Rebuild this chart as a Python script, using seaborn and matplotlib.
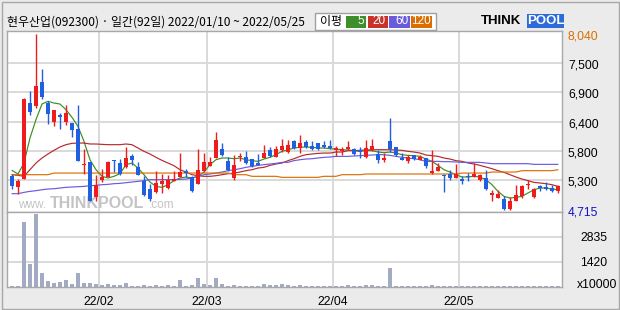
import numpy as np
import pandas as pd
import matplotlib
matplotlib.use("Agg")
import matplotlib.pyplot as plt
import matplotlib.transforms as mtrans
from matplotlib.patches import Rectangle
import seaborn as sns

# ---------------- data ----------------
holidays = ["2022-01-31", "2022-02-01", "2022-02-02", "2022-03-01", "2022-03-09", "2022-05-05"]

opens = [5356, 5148, 5299, 6729, 6666, 7126, 6729, 6364, 6496, 6364, 6351, 6238, 5551, 5614, 4947, 5268,
         5331, 5658, 5595, 5514, 5721, 5520, 5249, 5104, 5041, 5205, 5123, 5262, 5331, 5438, 5331, 5205,
         5438, 5539, 5690, 5854, 5627, 5312, 5703, 5703, 5671, 5595, 5690, 5835, 5709, 5847, 5797, 6011,
         5879, 5992, 5923, 5973, 5942, 5923, 5847, 5816, 5866, 5860, 5835, 5709, 5847, 5766, 5646, 6005,
         5898, 5690, 5627, 5740, 5658, 5690, 5406, 5451, 5375, 5394, 5312, 5293, 5337, 5331, 5280, 5312,
         4984, 4934, 4915, 4720, 4871, 4978, 5186, 4947, 5167, 5142, 5123, 5073]
highs = [5394, 5299, 6830, 6963, 8040, 7372, 6761, 6600, 6534, 6685, 6351, 6692, 5860, 5614, 5369, 5482,
         5640, 5658, 5677, 5898, 5772, 5608, 5344, 5199, 5438, 5394, 5375, 5438, 5784, 5488, 5344, 5866,
         5784, 5709, 6181, 5973, 5709, 5740, 5778, 5816, 5671, 5772, 5929, 5898, 5917, 6049, 6030, 6030,
         6125, 6024, 6018, 5973, 6011, 6030, 5923, 5898, 6011, 5879, 5898, 6030, 6049, 5841, 5791, 6446,
         5898, 5784, 5753, 5753, 5753, 5690, 5835, 5596, 5388, 5469, 5583, 5344, 5406, 5596, 5394, 5457,
         5091, 5079, 4978, 4953, 5186, 5186, 5268, 5123, 5186, 5236, 5186, 5186]
lows = [5104, 5016, 5290, 6503, 6629, 6811, 6339, 6301, 6244, 6320, 6081, 5627, 5394, 4871, 4871, 5236,
        5331, 5425, 5362, 5501, 5564, 5375, 4966, 4884, 5028, 5028, 5104, 5249, 5331, 5331, 5047, 5205,
        5425, 5539, 5690, 5721, 5438, 5280, 5627, 5577, 5514, 5551, 5690, 5709, 5709, 5803, 5784, 5866,
        5784, 5879, 5835, 5847, 5879, 5866, 5721, 5753, 5835, 5753, 5690, 5690, 5816, 5595, 5614, 5803,
        5721, 5646, 5595, 5646, 5646, 5501, 5394, 5438, 5041, 5280, 5312, 5205, 5262, 5331, 5262, 5091,
        4884, 4934, 4715, 4715, 4871, 4934, 5104, 4934, 5073, 5091, 5047, 5028]
closes = [5167, 5249, 6811, 6566, 7051, 6843, 6528, 6597, 6465, 6540, 6213, 5627, 5583, 4871, 5173, 5331,
          5608, 5627, 5394, 5690, 5646, 5375, 4997, 4915, 5217, 5262, 5268, 5299, 5425, 5413, 5060, 5469,
          5614, 5614, 6030, 5740, 5457, 5551, 5728, 5595, 5545, 5551, 5784, 5728, 5860, 5920, 5942, 5879,
          5973, 5898, 5866, 5866, 5898, 5879, 5879, 5866, 5898, 5766, 5803, 5879, 5917, 5658, 5690, 5866,
          5740, 5658, 5709, 5671, 5709, 5532, 5444, 5520, 5344, 5312, 5388, 5262, 5325, 5394, 5375, 5110,
          5028, 5016, 4732, 4871, 4984, 5154, 5205, 5104, 5123, 5104, 5073, 5167]
volumes = [45, 60, 3700, 1320, 4140, 810, 360, 227, 300, 397, 190, 810, 227, 227, 170, 100,
           170, 100, 115, 227, 75, 75, 115, 75, 115, 75, 95, 60, 397, 60, 115, 510,
           170, 115, 510, 170, 60, 115, 60, 60, 60, 60, 170, 130, 130, 170, 115, 60,
           115, 60, 45, 45, 45, 45, 45, 45, 115, 45, 45, 115, 115, 45, 45, 1077,
           45, 45, 45, 45, 45, 45, 113, 45, 45, 45, 45, 45, 45, 45, 45, 45,
           45, 45, 45, 45, 45, 45, 45, 45, 45, 45, 45, 45]
ma5 = [5457, 5388, 5595, 6068, 6415, 6710, 6761, 6729, 6710, 6603, 6459, 6289, 6005, 5658, 5469, 5344,
       5312, 5344, 5394, 5564, 5595, 5501, 5375, 5236, 5154, 5136, 5186, 5262, 5312, 5331, 5312, 5343,
       5425, 5564, 5658, 5690, 5690, 5677, 5690, 5658, 5640, 5627, 5671, 5703, 5753, 5816, 5847, 5879,
       5892, 5898, 5892, 5879, 5879, 5866, 5860, 5847, 5841, 5829, 5816, 5829, 5829, 5803, 5791, 5803,
       5784, 5753, 5740, 5734, 5721, 5671, 5627, 5551, 5469, 5425, 5375, 5331, 5331, 5344, 5331, 5280,
       5186, 5060, 4966, 4934, 4947, 4966, 5029, 5091, 5123, 5123, 5104, 5091]
ma20 = [5375, 5363, 5344, 5469, 5595, 5690, 5766, 5835, 5898, 5942, 5967, 5973, 5973, 5955, 5955, 5948,
        5942, 5942, 5942, 5955, 5942, 5879, 5816, 5766, 5703, 5646, 5595, 5545, 5469, 5425, 5375, 5356,
        5344, 5344, 5356, 5375, 5394, 5406, 5425, 5451, 5469, 5501, 5514, 5551, 5577, 5595, 5640, 5677,
        5721, 5753, 5766, 5778, 5784, 5784, 5803, 5803, 5829, 5829, 5835, 5841, 5847, 5847, 5847, 5847,
        5841, 5835, 5816, 5803, 5784, 5747, 5734, 5721, 5690, 5671, 5640, 5627, 5596, 5577, 5551, 5520,
        5488, 5451, 5419, 5375, 5331, 5293, 5262, 5230, 5218, 5205, 5186, 5154]
ma60 = [5016, 5016, 5041, 5060, 5073, 5091, 5104, 5110, 5123, 5136, 5142, 5148, 5154, 5167, 5173, 5186,
        5192, 5205, 5211, 5224, 5236, 5249, 5262, 5281, 5281, 5281, 5281, 5281, 5287, 5293, 5312, 5343,
        5375, 5388, 5406, 5425, 5451, 5469, 5488, 5514, 5532, 5551, 5564, 5577, 5589, 5608, 5608, 5640,
        5658, 5671, 5677, 5690, 5703, 5709, 5721, 5721, 5721, 5728, 5734, 5740, 5747, 5753, 5753, 5740,
        5721, 5703, 5690, 5677, 5658, 5627, 5627, 5627, 5621, 5621, 5615, 5608, 5608, 5608, 5608, 5596,
        5583, 5583, 5583, 5583, 5583, 5583, 5583, 5570, 5570, 5570, 5570, 5570]
ma120 = [5375, 5375, 5375, 5375, 5375, 5375, 5375, 5406, 5406, 5406, 5406, 5406, 5406, 5406, 5406, 5406,
         5406, 5406, 5406, 5406, 5406, 5406, 5406, 5406, 5406, 5406, 5406, 5406, 5406, 5406, 5406, 5406,
         5406, 5406, 5406, 5406, 5406, 5375, 5375, 5375, 5344, 5344, 5344, 5344, 5344, 5325, 5325, 5325,
         5325, 5325, 5325, 5325, 5344, 5344, 5344, 5375, 5375, 5375, 5375, 5388, 5388, 5388, 5388, 5388,
         5388, 5388, 5388, 5388, 5388, 5388, 5388, 5388, 5388, 5388, 5388, 5406, 5406, 5406, 5406, 5406,
         5425, 5425, 5425, 5425, 5425, 5451, 5451, 5451, 5451, 5451, 5451, 5469]

price_ticks = [4715, 5269, 5823, 6377, 6931, 7485, 8039]
price_labels = ["4,715", "5,300", "5,800", "6,400", "6,900", "7,500", "8,040"]
vol_ticks = [1420, 2835]
vol_labels = ["1420", "2835"]
ma_names = ["5", "20", "60", "120"]

title = "현우산업(092300) · 일간(92일) 2022/01/10 ~ 2022/05/25"

# ---------------- styling ----------------
sns.set_style("white")
plt.rcParams['font.family'] = ['Noto Sans CJK KR', 'DejaVu Sans']

RED = "#ee1c1c"
BLUE = "#1f5fe0"
VOLC = "#a3aac3"
GRID = "#d9d9d9"
BG = "#ebebeb"
SPINE = "#a8a8a8"
MA_COLORS = {"5": "#3f8c22", "20": "#b52a2a", "60": "#6a5adc", "120": "#dc6e00"}
LEG_COLORS = {"5": "#3e8e2a", "20": "#c83228", "60": "#6a5adc", "120": "#dc6e00"}
NUMFONT = ["Liberation Sans", "DejaVu Sans"]

W, H = 620, 310
def fx(px):
    return px / W
def fy(py):
    return 1 - py / H

dates = [d for d in pd.bdate_range("2022-01-10", "2022-05-25") if d.strftime("%Y-%m-%d") not in holidays]
n = len(dates)
idx = np.arange(n)
o = np.array(opens, float); c = np.array(closes, float)
h = np.array(highs, float); l = np.array(lows, float)

month_pos, month_lab = [], []
for i in range(1, n):
    if dates[i].month != dates[i - 1].month:
        month_pos.append(i - 0.5)
        month_lab.append(dates[i].strftime("%y/%m"))

fig = plt.figure(figsize=(6.2, 3.1), dpi=100, facecolor=BG)
ax = fig.add_axes([fx(7), fy(212), (562 - 7) / W, (212 - 31) / H])
axv = fig.add_axes([fx(7), fy(287), (562 - 7) / W, (287 - 212) / H])

XL = (-0.83, 91.67)
for a in (ax, axv):
    a.set_facecolor("white")
    for s in a.spines.values():
        s.set_color(SPINE)
        s.set_linewidth(1.0)
    a.set_xlim(*XL)
    for mp in month_pos:
        a.axvline(mp, color=GRID, lw=1.4, zorder=0.5)

# price panel
ax.set_ylim(4670, 8090)
for t in price_ticks[1:-1]:
    ax.axhline(t, color=GRID, lw=1.4, zorder=0.5)

# watermark
wm = "#c4c4c4"
wy = (212 - 208) / 181
ax.text((46 - 7) / 555, wy, "www.", transform=ax.transAxes, color=wm,
        fontsize=8.5, family=NUMFONT, va="baseline", ha="right", zorder=1)
ax.text((97 - 7) / 555, wy, "THINKPOOL", transform=ax.transAxes, color=wm,
        fontsize=11.5, fontweight="bold", family=NUMFONT, va="baseline", ha="center", zorder=1)
ax.text((149 - 7) / 555, wy, ".com", transform=ax.transAxes, color=wm,
        fontsize=8.5, family=NUMFONT, va="baseline", ha="left", zorder=1)

# moving averages
ma_df = pd.concat([
    pd.DataFrame({"idx": idx, "value": vals, "ma": name})
    for name, vals in zip(ma_names, [ma5, ma20, ma60, ma120])
])
sns.lineplot(data=ma_df, x="idx", y="value", hue="ma", palette=MA_COLORS, ax=ax,
             legend=False, linewidth=0.85, zorder=2)

# candles
up = c >= o
cols = np.where(up, RED, BLUE)
ax.vlines(idx, l, h, colors=cols, lw=1.0, zorder=3)
body_bottom = np.minimum(o, c)
body_h = np.maximum(np.abs(c - o), 20)
ax.bar(idx, body_h, bottom=body_bottom, width=0.76, color=cols, linewidth=0, zorder=4)

ax.set_xticks([]); ax.set_yticks([])
ax.set_xlabel(""); ax.set_ylabel("")
ax.set_xlim(*XL)

# volume panel
vol_df = pd.DataFrame({"idx": idx, "vol": volumes})
sns.barplot(data=vol_df, x="idx", y="vol", native_scale=True, color=VOLC, saturation=1,
            width=0.76, ax=axv, errorbar=None, linewidth=0, zorder=2)
axv.set_ylim(0, 4253)
axv.set_xlim(*XL)
for t in vol_ticks:
    axv.axhline(t, color=GRID, lw=1.4, zorder=0.5)
axv.set_xticks([]); axv.set_yticks([])
axv.set_xlabel(""); axv.set_ylabel("")

# right labels
tr = mtrans.offset_copy(ax.get_yaxis_transform(), fig=fig, y=-1.8, units="points")
for v, lab in zip(price_ticks, price_labels):
    colr = "black"
    if lab == price_labels[-1]:
        colr = "#d87000"
    if lab == price_labels[0]:
        colr = "#1414c8"
    ax.text(1 + 6 / 555, v, lab, transform=tr, ha="left", va="center", fontsize=8.7,
            family=NUMFONT, color=colr, clip_on=False)
trv = mtrans.offset_copy(axv.get_yaxis_transform(), fig=fig, y=-1.0, units="points")
for v, lab in zip(vol_ticks, vol_labels):
    axv.text(1 + 18 / 555, v, lab, transform=trv, ha="left", va="center", fontsize=8.7,
             family=NUMFONT, color="black", clip_on=False)
axv.text(1 + 15 / 555, 0.03, "x10000", transform=axv.transAxes, ha="left", va="center",
         fontsize=8.7, family=NUMFONT, color="black", clip_on=False)

# month labels
for mp, lab in zip(month_pos, month_lab):
    axv.text(mp, -15 / 75, lab, transform=axv.get_xaxis_transform(), ha="center",
             va="center", fontsize=8.7, family=NUMFONT, color="black", clip_on=False)

# title
fig.text(fx(7), fy(22), title, fontsize=8.6, va="center", ha="left", color="black",
         family=["Noto Sans CJK KR", "DejaVu Sans"])

# MA legend box
fig.add_artist(Rectangle((fx(315), fy(29.5)), (436 - 315) / W, (29.5 - 12.5) / H,
                         transform=fig.transFigure, facecolor="white", edgecolor="#a0a0a0", lw=1))
fig.text(fx(320), fy(21), "이평", fontsize=8.6, va="center", ha="left", color="black",
         family=["Noto Sans CJK KR", "DejaVu Sans"])
box_x = {"5": (346, 366), "20": (367.5, 387.5), "60": (389, 410), "120": (411, 432)}
for name in ma_names:
    x0, x1 = box_x[name]
    fig.add_artist(Rectangle((fx(x0), fy(27.5)), (x1 - x0) / W, 12 / H, transform=fig.transFigure,
                             facecolor=LEG_COLORS[name], edgecolor="none"))
    fig.text(fx(x1 - 1.5), fy(21.5), name, fontsize=8.5, va="center", ha="right", color="white",
             family=NUMFONT)

# THINKPOOL logo
fig.text(fx(481), fy(21), "THINK", fontsize=9.5, fontweight="bold", va="center", ha="left",
         color="black", family=NUMFONT)
fig.add_artist(Rectangle((fx(527), fy(28)), 37 / W, 14 / H, transform=fig.transFigure,
                         facecolor="#2d6bd8", edgecolor="none"))
fig.text(fx(545.5), fy(21), "POOL", fontsize=9.5, fontweight="bold", va="center", ha="center",
         color="white", family=NUMFONT)

# outer border
fig.add_artist(Rectangle((fx(1.5), fy(308.5)), 617 / W, 307 / H, transform=fig.transFigure,
                         facecolor="none", edgecolor="#a8a8a8", lw=1))

fig.savefig("out.png", dpi=100, facecolor=BG)
